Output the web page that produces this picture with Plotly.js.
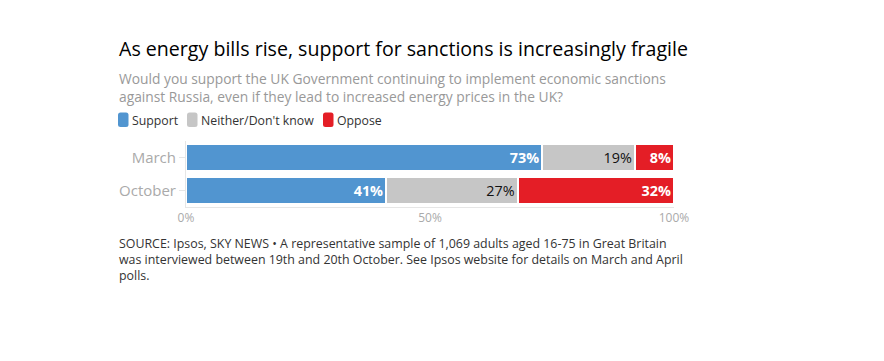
<!DOCTYPE html>
<html><head><meta charset="utf-8">
<script src="https://cdn.plot.ly/plotly-3.0.1.min.js"></script>
<style>body{margin:0;background:#fff}#chart{width:884px;height:361px}</style>
</head><body><div id="chart"></div>
<script>
var categories = ["March", "October"];
var support = [73, 41];
var neither = [19, 27];
var oppose = [8, 32];
var seriesNames = ["Support", "Neither/Don't know", "Oppose"];
var seriesColors = ["#5195d0", "#c6c6c6", "#e41e26"];
var tickVals = [0, 50, 100];
var tickText = ["0%", "50%", "100%"];

var FONT = "Open Sans, sans-serif";
var L = 186, R = 674, T = 141, B = 207;
function px(x){ return (x - L) / (R - L); }
function py(y){ return (B - y) / (B - T); }

function mk(name, vals, color, txtColor, bold) {
  return {
    type: "bar", orientation: "h", name: name, y: categories, x: vals,
    marker: {color: color, line: {color: "#fff", width: 1.5}},
    text: vals.map(function(v){ return bold ? "<b>" + v + "%</b>" : v + "%"; }),
    textposition: "inside", insidetextanchor: "end",
    textfont: {color: txtColor, size: 15.5, family: FONT},
    hoverinfo: "none", cliponaxis: false, showlegend: false
  };
}
var data = [
  mk(seriesNames[0], support, seriesColors[0], "#fff", true),
  mk(seriesNames[1], neither, seriesColors[1], "#111", false),
  mk(seriesNames[2], oppose, seriesColors[2], "#fff", true)
];

// custom legend (swatch + label)
var legendX = [118, 187, 323];
var shapes = [], annotations = [];
function roundRect(x0, y0, x1, y1, r) {
  var X0 = px(x0), X1 = px(x1), Y0 = py(y0), Y1 = py(y1);
  var rx = r / (R - L), ry = r / (B - T);
  return "M" + (X0 + rx) + "," + Y0 + " L" + (X1 - rx) + "," + Y0 +
    " Q" + X1 + "," + Y0 + " " + X1 + "," + (Y0 - ry) +
    " L" + X1 + "," + (Y1 + ry) + " Q" + X1 + "," + Y1 + " " + (X1 - rx) + "," + Y1 +
    " L" + (X0 + rx) + "," + Y1 + " Q" + X0 + "," + Y1 + " " + X0 + "," + (Y1 + ry) +
    " L" + X0 + "," + (Y0 - ry) + " Q" + X0 + "," + Y0 + " " + (X0 + rx) + "," + Y0 + " Z";
}
seriesNames.forEach(function(n, i) {
  shapes.push({type: "path", xref: "paper", yref: "paper",
    path: roundRect(legendX[i], 112.5, legendX[i] + 10.5, 127, 2.5),
    fillcolor: seriesColors[i], line: {width: 0}});
  annotations.push({xref: "paper", yref: "paper", x: px(legendX[i] + 12), y: py(120),
    xanchor: "left", yanchor: "middle", showarrow: false, text: n,
    font: {size: 12.3, color: "#333", family: FONT}});
});

annotations.push(
  {xref: "paper", yref: "paper", x: px(117), y: py(48), xanchor: "left", yanchor: "middle",
   text: "As energy bills rise, support for sanctions is increasingly fragile", showarrow: false,
   font: {size: 19.6, color: "#000", family: FONT}},
  {xref: "paper", yref: "paper", x: px(117), y: py(87.5), xanchor: "left", yanchor: "middle", align: "left",
   text: "Would you support the UK Government continuing to implement economic sanctions<br>against Russia, even if they lead to increased energy prices in the UK?", showarrow: false,
   font: {size: 13.8, color: "#999", family: FONT}},
  {xref: "paper", yref: "paper", x: px(117), y: py(259.5), xanchor: "left", yanchor: "middle", align: "left",
   text: "SOURCE: Ipsos, SKY NEWS • A representative sample of 1,069 adults aged 16-75 in Great Britain<br>was interviewed between 19th and 20th October. See Ipsos website for details on March and April<br>polls.", showarrow: false,
   font: {size: 12.4, color: "#333", family: FONT}}
);

var layout = {
  width: 884, height: 361,
  margin: {l: L, r: 884 - R, t: T, b: 361 - B},
  barmode: "stack", bargap: 0.2,
  paper_bgcolor: "#fff", plot_bgcolor: "#fff",
  font: {family: FONT, color: "#333"},
  xaxis: {range: [0, 100], tickvals: tickVals, ticktext: tickText,
    tickfont: {size: 12, color: "#aaa"}, showgrid: false, zeroline: false,
    showline: true, linecolor: "#e6e6e6", ticks: "", fixedrange: true},
  yaxis: {autorange: "reversed", tickfont: {size: 15, color: "#aaa"},
    ticks: "outside", ticklen: 6, tickcolor: "#e6e6e6", showline: true, linecolor: "#e6e6e6",
    showgrid: false, zeroline: false, ticklabelstandoff: 0},
  showlegend: false,
  shapes: shapes,
  annotations: annotations
};
Plotly.newPlot("chart", data, layout, {displayModeBar: false, staticPlot: true});
</script></body></html>
